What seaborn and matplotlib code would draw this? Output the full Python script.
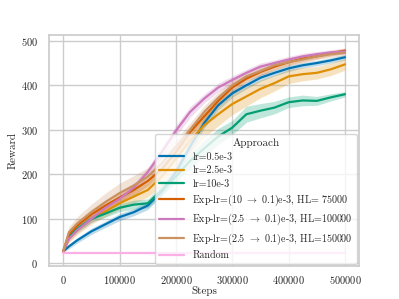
# Reward curves for the different learning-rate approaches

import numpy as np
import pandas as pd
import seaborn as sns
from matplotlib import pyplot as plt

steps = [0, 10000, 25000, 50000, 75000, 100000, 125000, 150000, 175000, 200000, 225000,
         250000, 275000, 300000, 325000, 350000, 375000, 400000, 425000, 450000, 475000, 500000]

labels = ["lr=0.5e-3",
          "lr=2.5e-3",
          "lr=10e-3",
          r"Exp-lr=(10 $\rightarrow$ 0.1)e-3, HL= 75000",
          r"Exp-lr=(2.5 $\rightarrow$ 0.1)e-3, HL=100000",
          r"Exp-lr=(2.5 $\rightarrow$ 0.1)e-3, HL=150000",
          "Random"]

lr_05 = [27, 38, 52, 72, 88, 104, 115, 130, 162, 205, 262, 315, 355, 382, 400, 417, 428, 438, 445, 450, 456, 463]
lr_25 = [27, 55, 75, 100, 117, 135, 150, 165, 195, 235, 275, 310, 335, 358, 375, 392, 405, 420, 425, 428, 436, 447]
lr_10 = [27, 60, 78, 100, 112, 125, 132, 135, 165, 195, 230, 258, 285, 305, 335, 343, 350, 362, 366, 365, 373, 380]
exp_10_75k = [27, 65, 85, 110, 130, 148, 165, 185, 212, 250, 295, 330, 365, 395, 415, 430, 442, 452, 460, 465, 472, 478]
exp_25_100k = [27, 55, 75, 100, 125, 145, 170, 205, 250, 298, 340, 370, 395, 412, 428, 442, 450, 458, 465, 470, 474, 476]
exp_25_150k = [27, 70, 90, 115, 138, 158, 175, 195, 225, 262, 300, 340, 372, 400, 420, 432, 445, 452, 458, 465, 470, 473]
random_agent = [24] * len(steps)

# half width of the shaded band around each curve
sd_05 = [2, 5, 6, 7, 7, 8, 8, 9, 10, 12, 12, 12, 10, 9, 8, 8, 7, 7, 6, 6, 6, 6]
sd_25 = [2, 8, 10, 12, 12, 14, 15, 16, 20, 25, 28, 28, 26, 24, 22, 20, 18, 16, 15, 14, 14, 13]
sd_10 = [2, 6, 7, 8, 8, 9, 10, 10, 12, 14, 16, 18, 18, 16, 18, 16, 14, 12, 12, 10, 8, 6]
sd_e75 = [2, 8, 10, 12, 12, 12, 12, 12, 12, 12, 12, 11, 10, 9, 8, 8, 8, 7, 7, 6, 6, 6]
sd_e100 = [2, 6, 7, 8, 8, 8, 9, 10, 12, 12, 12, 10, 10, 9, 8, 8, 7, 7, 7, 6, 6, 6]
sd_e150 = [2, 12, 15, 18, 20, 22, 22, 20, 18, 16, 15, 14, 12, 12, 10, 10, 9, 8, 8, 7, 7, 7]
sd_rand = [0] * len(steps)

series = [lr_05, lr_25, lr_10, exp_10_75k, exp_25_100k, exp_25_150k, random_agent]
spreads = [sd_05, sd_25, sd_10, sd_e75, sd_e100, sd_e150, sd_rand]

df = pd.concat([pd.DataFrame({"Steps": steps, "Reward": s, "Approach": lab})
                for s, lab in zip(series, labels)], ignore_index=True)

sns.set_theme(style="whitegrid")
plt.rcParams["font.family"] = "serif"
plt.rcParams["font.serif"] = ["cmr10", "DejaVu Serif"]
plt.rcParams["mathtext.fontset"] = "cm"
plt.rcParams["axes.formatter.use_mathtext"] = True
plt.rcParams["axes.unicode_minus"] = False

palette = sns.color_palette("colorblind")[:7]

fig = plt.figure(figsize=(3.99, 2.99), dpi=100)
ax = fig.add_axes([0.123, 0.11, 0.777, 0.773])

for s, sd, c in zip(series, spreads, palette):
    lo = np.array(s) - np.array(sd)
    hi = np.array(s) + np.array(sd)
    ax.fill_between(steps, lo, hi, color=c, alpha=0.25, linewidth=0)

sns.lineplot(data=df, x="Steps", y="Reward", hue="Approach", palette=palette,
             linewidth=1.6, ax=ax)

ax.set_xlim(-25000, 525000)
ax.set_ylim(-6, 513)
ax.set_xticks([0, 100000, 200000, 300000, 400000, 500000])
ax.set_yticks([0, 100, 200, 300, 400, 500])
ax.tick_params(axis="x", labelsize=7.5, pad=0)
ax.tick_params(axis="y", labelsize=7.5, pad=2)
ax.set_xlabel("Steps", fontsize=8, labelpad=0)
ax.set_ylabel("Reward", fontsize=8, labelpad=2)

leg = ax.legend(title="Approach", loc="lower right", fontsize=7.2, title_fontsize=8,
                handlelength=2.5, labelspacing=0.4, borderaxespad=0.2)
for line in leg.get_lines():
    line.set_linewidth(1.6)

fig.savefig("out.png", dpi=100)
